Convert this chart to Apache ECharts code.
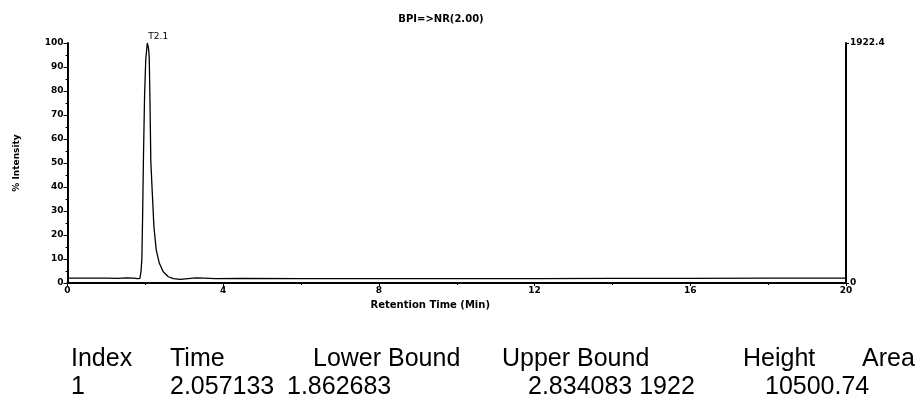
<!DOCTYPE html>
<html>
<head>
<meta charset="utf-8">
<script src="https://cdn.jsdelivr.net/npm/echarts@6/dist/echarts.min.js"></script>
<style>
html,body{margin:0;padding:0;background:#fff;}
#chart{width:918px;height:401px;}
</style>
</head>
<body>
<div id="chart"></div>
<script>
// retention time (min) and % intensity
var times = [0, 0.5, 1.0, 1.3, 1.5, 1.7, 1.8, 1.86, 1.89, 1.91, 1.93, 1.95, 1.98, 2.01, 2.05, 2.08, 2.10, 2.12, 2.14, 2.18, 2.22, 2.28, 2.36, 2.46, 2.59, 2.72, 2.9, 3.1, 3.3, 3.5, 3.8, 4.5, 6, 8, 10, 12, 14, 16, 18, 20];
var intensity = [2.0, 2.0, 2.0, 1.9, 2.1, 2.0, 1.8, 1.9, 5, 10, 28, 51, 78, 93, 100, 98, 94, 75, 51, 37, 23.5, 13.7, 8.2, 4.7, 2.6, 1.8, 1.5, 1.8, 2.1, 2.0, 1.8, 1.9, 1.8, 1.8, 1.8, 1.8, 1.9, 1.9, 2.0, 2.0];
var peakLabel = 'T2.1';
var maxHeight = 1922.4;

// peak table under the chart
var tableHeader = ['Index', 'Time', 'Lower Bound', 'Upper Bound', 'Height', 'Area'];
var tableRow = ['1', '2.057133', '1.862683', '2.834083 1922', '10500.74'];
var headerX = [71, 170, 313, 502, 743, 862];
var rowX = [71, 170, 287, 528, 765];

var points = [];
for (var i = 0; i < times.length; i++) {
	points.push([times[i], intensity[i]]);
}

var boldFont = {fontFamily: 'DejaVu Sans', fontWeight: 'bold', fontSize: 9, color: '#000'};

var graphics = [];
for (var i = 0; i < tableHeader.length; i++) {
	graphics.push({type: 'text', left: headerX[i], top: 347, style: {text: tableHeader[i], font: '25px "Liberation Sans"', fill: '#000'}});
}
for (var i = 0; i < tableRow.length; i++) {
	graphics.push({type: 'text', left: rowX[i], top: 375, style: {text: tableRow[i], font: '25px "Liberation Sans"', fill: '#000'}});
}

var myChart = echarts.init(document.getElementById('chart'));
var option = {
	animation: false,
	backgroundColor: '#fff',
	title: {
		text: 'BPI=>NR(2.00)',
		left: 436,
		top: 9,
		textAlign: 'center',
		textStyle: {fontFamily: 'DejaVu Sans', fontWeight: 'bold', fontSize: 10, color: '#000'}
	},
	grid: {left: 67.5, right: 72, top: 43, bottom: 118, containLabel: false},
	xAxis: {
		type: 'value',
		min: 0,
		max: 20,
		interval: 4,
		name: 'Retention Time (Min)',
		nameLocation: 'middle',
		nameGap: 17,
		nameTextStyle: {fontFamily: 'DejaVu Sans', fontWeight: 'bold', fontSize: 10, color: '#000', padding: [0, 53, 0, 0]},
		axisLine: {lineStyle: {color: '#000', width: 2}},
		axisTick: {length: 3, lineStyle: {color: '#000', width: 1}},
		minorTick: {show: true, splitNumber: 2, length: 2, lineStyle: {color: '#000'}},
		axisLabel: Object.assign({margin: 3}, boldFont),
		splitLine: {show: false}
	},
	yAxis: [{
		type: 'value',
		min: 0,
		max: 100,
		interval: 10,
		name: '% Intensity',
		nameLocation: 'middle',
		nameGap: 46,
		nameTextStyle: boldFont,
		axisLine: {show: true, lineStyle: {color: '#000', width: 2}},
		axisTick: {show: true, length: 4, lineStyle: {color: '#000', width: 1}},
		minorTick: {show: true, splitNumber: 2, length: 2, lineStyle: {color: '#000'}},
		axisLabel: Object.assign({margin: 4}, boldFont),
		splitLine: {show: false}
	}, {
		type: 'value',
		position: 'right',
		min: 0,
		max: maxHeight,
		interval: maxHeight,
		axisLine: {show: true, lineStyle: {color: '#000', width: 2}},
		axisTick: {show: true, length: 3, lineStyle: {color: '#000', width: 1}},
		axisLabel: Object.assign({
			margin: 4,
			showMaxLabel: true,
			showMinLabel: true,
			formatter: function(v) { return String(v); }
		}, boldFont),
		splitLine: {show: false}
	}],
	series: [{
		type: 'line',
		data: points,
		yAxisIndex: 0,
		symbol: 'none',
		lineStyle: {color: '#000', width: 1.3},
		markPoint: {
			symbol: 'circle',
			symbolSize: 0,
			data: [{type: 'max'}],
			label: {
				show: true,
				formatter: peakLabel,
				position: 'right',
				offset: [-4, -6],
				fontFamily: 'DejaVu Sans',
				fontSize: 9,
				color: '#000'
			}
		}
	}],
	graphic: graphics
};
myChart.setOption(option);
</script>
</body>
</html>
